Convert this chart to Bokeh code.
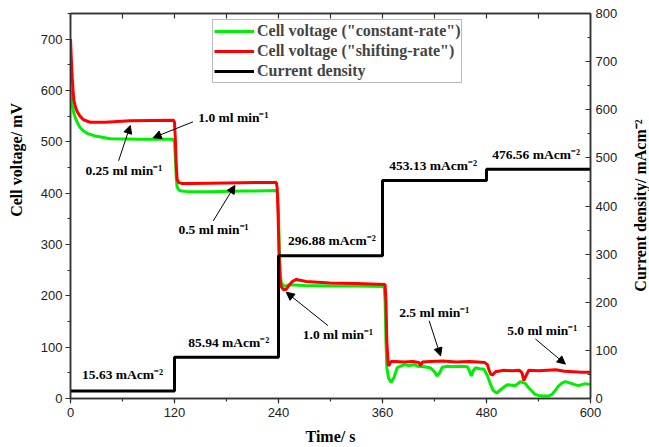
import math
from bokeh.plotting import figure
from bokeh.layouts import row
from bokeh.models import (Range1d, LinearAxis, SingleIntervalTicker, Label, Arrow,
                          NormalHead, Legend, LegendItem)
from bokeh.embed import file_html
from bokeh.resources import INLINE

# ---------------- data ----------------
time_green = [0, 1, 2, 4, 6, 8, 11, 15, 20, 27, 46, 80, 118, 120, 121, 122, 123, 125, 128, 135,
              160, 200, 238, 239, 240, 241, 242, 243, 245, 248, 252, 258, 270, 300, 330, 362,
              363, 364, 365, 367, 370, 373, 377, 385, 390, 397, 400, 408, 415, 420, 423, 426, 429,
              435, 440, 450, 458, 460, 462.5, 465, 467.5, 472, 477, 481, 484.5, 488, 492, 497, 503.8,
              509, 513.4, 519, 525, 528, 532.6, 536, 540, 546, 552, 555.6, 559, 563, 567, 571,
              578.5, 582, 586, 590, 594, 600]
volt_green = [600, 585, 570, 555, 545, 537, 528, 521, 516, 512, 506, 505, 505, 500, 470, 430, 412, 406, 404, 403,
              403, 404, 405, 398, 360, 290, 245, 228, 220, 219, 221, 221, 220, 219, 219, 218,
              190, 110, 60, 40, 31, 40, 60, 66, 64, 66, 63, 62, 60, 52, 44, 50, 61,
              63, 62, 63, 62, 55, 44, 55, 60, 58, 57, 45, 28, 15, 11, 18, 27,
              26, 25, 33, 29, 22, 14, 8, 6, 5, 5, 8, 15, 24, 30, 33,
              29, 27, 25, 27, 29, 27]

time_red = [0, 1, 2, 3, 4, 6, 8, 11, 15, 23, 40, 69, 119, 120, 121, 122, 123, 124.5, 128, 140,
            180, 237.5, 238.5, 239.5, 240.5, 241.5, 243, 246, 249, 252, 256, 260.5, 272, 299, 330, 363,
            364, 365, 366.7, 368, 369.7, 375, 385, 395, 402, 404, 406, 415, 430, 445, 460, 470, 478,
            481, 483, 485, 487, 490.4, 500, 510, 518, 521, 523, 525, 528.7, 540, 550, 560, 570, 580,
            590, 600]
volt_red = [700, 660, 625, 598, 580, 566, 558, 550, 543, 538, 538, 541, 542, 538, 505, 455, 428, 421, 419, 419,
            420, 421, 410, 360, 290, 240, 218, 212, 213, 220, 228, 232, 228, 225, 224, 222,
            190, 110, 64, 66, 72, 72, 71, 72, 70, 64, 71, 72, 73, 71, 72, 71, 70,
            66, 55, 47, 46, 52, 55, 54, 55, 50, 35, 42, 55, 54, 55, 56, 53, 52,
            51, 51]

step_time = [0, 120, 240, 360, 480, 600]
current_density = [15.63, 85.94, 296.88, 453.13, 476.56, 476.56]

series_names = ['Cell voltage ("constant-rate")', 'Cell voltage ("shifting-rate")', 'Current density']
flow_labels = ["0.25 ml min\u207b\u00b9", "1.0 ml min\u207b\u00b9", "0.5 ml min\u207b\u00b9",
               "1.0 ml min\u207b\u00b9", "2.5 ml min\u207b\u00b9", "5.0 ml min\u207b\u00b9"]
cd_labels = ["%.2f mAcm\u207b\u00b2" % v for v in current_density[:5]]
axis_titles = ["Time/ s", "Cell voltage/ mV", "Current density/ mAcm\u207b\u00b2"]

SERIF = "Liberation Serif"
SANS = "Liberation Sans"
AX = "#333333"
H = 447

# ---------------- side strips holding the vertical axis titles ----------------
def title_strip(width, x, y_center, text):
    f = figure(width=width, height=H, output_backend="svg", toolbar_location=None,
               x_range=Range1d(0, width), y_range=Range1d(0, H), min_border=0,
               x_axis_type=None, y_axis_type=None, outline_line_color=None)
    f.grid.visible = False
    f.add_layout(Label(x=x, y=H - y_center, text=text, angle=math.pi / 2,
                       text_align="center", text_baseline="middle",
                       text_font=SERIF, text_font_style="bold", text_font_size="16px",
                       text_color="black"))
    return f

left_strip = title_strip(30, 16, 170, axis_titles[1])
right_strip = title_strip(29, 20, 223, axis_titles[2])

# ---------------- main figure ----------------
p = figure(width=590, height=H, output_backend="svg", toolbar_location=None,
           x_range=Range1d(0, 600), y_range=Range1d(0, 750),
           min_border_left=40, min_border_right=28, min_border_top=13, min_border_bottom=49)
p.extra_y_ranges = {"cd": Range1d(0, 800)}
p.grid.visible = False
p.outline_line_color = AX
p.outline_line_width = 1.5
p.background_fill_color = "white"
p.border_fill_color = "white"

def style_axis(ax):
    ax.axis_line_color = AX
    ax.axis_line_width = 1.5
    ax.major_tick_line_color = AX
    ax.minor_tick_line_color = AX
    ax.major_tick_line_width = 1.2
    ax.minor_tick_line_width = 1.2
    ax.major_label_text_font = SANS
    ax.major_label_text_font_size = "13px"
    ax.major_label_text_color = "#222222"
    ax.axis_label_text_font = SERIF
    ax.axis_label_text_font_style = "bold"
    ax.axis_label_text_font_size = "16px"
    ax.axis_label_text_color = "black"

xa = p.xaxis[0]
xa.ticker = SingleIntervalTicker(interval=120, num_minor_ticks=2)
xa.axis_label = axis_titles[0]
style_axis(xa)
xa.major_tick_out = 5
xa.major_tick_in = 0
xa.minor_tick_out = 3
xa.minor_tick_in = 0
xa.major_label_standoff = 4
xa.axis_label_standoff = 8

ya = p.yaxis[0]
ya.ticker = SingleIntervalTicker(interval=100, num_minor_ticks=2)
style_axis(ya)
ya.major_tick_out = 5
ya.major_tick_in = 0
ya.minor_tick_out = 3
ya.minor_tick_in = 0
ya.major_label_standoff = 3

ra = LinearAxis(y_range_name="cd", ticker=SingleIntervalTicker(interval=100, num_minor_ticks=2))
style_axis(ra)
ra.major_tick_out = 0
ra.major_tick_in = 5
ra.minor_tick_out = 0
ra.minor_tick_in = 3
ra.major_label_standoff = 5
p.add_layout(ra, "right")

ta = LinearAxis(ticker=SingleIntervalTicker(interval=60, num_minor_ticks=0))
style_axis(ta)
ta.major_tick_out = 0
ta.major_tick_in = 5
ta.major_label_text_font_size = "0px"
ta.major_label_standoff = 0
p.add_layout(ta, "above")

# ---------------- lines ----------------
g = p.line(time_green, volt_green, line_color="#00ee00", line_width=3)
r = p.line(time_red, volt_red, line_color="#ff0000", line_width=3)
k = p.step(step_time, current_density, mode="after", line_color="black", line_width=3,
           y_range_name="cd")

legend = Legend(items=[LegendItem(label=series_names[0], renderers=[g]),
                       LegendItem(label=series_names[1], renderers=[r]),
                       LegendItem(label=series_names[2], renderers=[k])],
                location=(142, 315))
legend.label_text_font = SERIF
legend.label_text_font_style = "bold"
legend.label_text_font_size = "16px"
legend.label_height = 20
legend.glyph_height = 20
legend.glyph_width = 40
legend.label_standoff = 3
legend.spacing = 0
legend.padding = 1
legend.margin = 0
legend.border_line_color = "#777777"
legend.border_line_width = 1
legend.background_fill_alpha = 1
p.add_layout(legend)

# ---------------- annotations ----------------
def lab(x, y, text):
    p.add_layout(Label(x=x, y=y, text=text, text_font=SERIF, text_font_style="bold",
                       text_font_size="13.5px", text_baseline="middle", text_color="black"))

def arr(x0, y0, x1, y1):
    p.add_layout(Arrow(end=NormalHead(size=8, fill_color="black", line_color="black"),
                       x_start=x0, y_start=y0, x_end=x1, y_end=y1,
                       line_color="black", line_width=1))

lab(17.2, 444, flow_labels[0]); arr(55.5, 463, 69, 532)
lab(147.5, 548, flow_labels[1]); arr(141.4, 539, 95.4, 508)
lab(124.5, 330, flow_labels[2]); arr(164.7, 346, 189.7, 415)
lab(268, 125.5, flow_labels[3]); arr(297, 142, 249, 207)
lab(379.3, 167.6, flow_labels[4]); arr(413.8, 151.5, 427, 83)
lab(503.8, 132, flow_labels[5]); arr(536.4, 116, 571, 67)

lab(13.4, 47.5, cd_labels[0])
lab(136, 109, cd_labels[1])
lab(251, 307, cd_labels[2])
lab(367.8, 453.6, cd_labels[3])
lab(486.6, 476, cd_labels[4])

layout = row(left_strip, p, right_strip, spacing=0)
open("out.html", "w").write(file_html(layout, INLINE))
